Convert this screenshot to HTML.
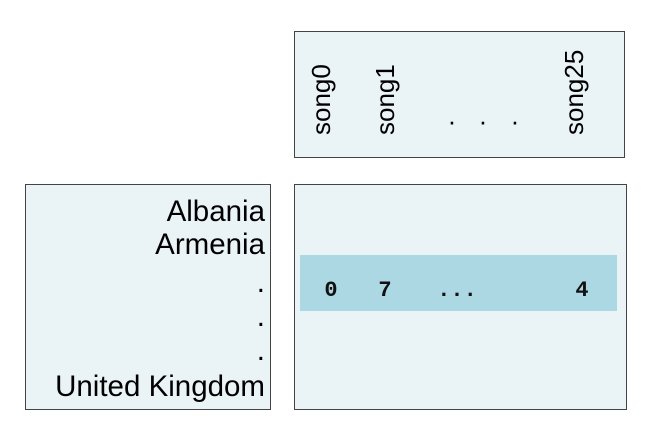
<!DOCTYPE html>
<html><head><meta charset="utf-8"><style>
html,body{margin:0;padding:0;background:#fff;}
svg{display:block;}
</style></head><body>
<svg width="660" height="440" viewBox="0 0 660 440" xmlns="http://www.w3.org/2000/svg" font-family="'Liberation Sans', sans-serif">
  <rect x="294.5" y="31.5" width="330" height="126" fill="#eaf3f6" stroke="#444" stroke-width="1"/>
  <rect x="25.5" y="184.5" width="245" height="225" fill="#eaf3f6" stroke="#444" stroke-width="1"/>
  <rect x="294.5" y="184.5" width="332" height="225" fill="#eaf3f6" stroke="#444" stroke-width="1"/>
  <rect x="300" y="255" width="317" height="56" fill="#acd8e4"/>
  <g id="cols"></g>
  <g id="rows"></g>
  <g id="vals"></g>
</svg>
<script>
const columns = ["song0","song1","·","·","·","song25"];
const columnX = [321,385,452,483,515,574];
const rows = ["Albania","Armenia",".",".",".","United Kingdom"];
const rowValues = ["0","7","...","4"];
const valueX = [331,385,457,582];
const NS="http://www.w3.org/2000/svg";
const cols=document.getElementById('cols');
columns.forEach((c,i)=>{
  const t=document.createElementNS(NS,'text');
  const x=columnX[i], y=135;
  if(c==="·"){
    t.setAttribute('x',x);t.setAttribute('y',130);
    t.setAttribute('text-anchor','middle');t.setAttribute('font-size','26');
  } else {
    t.setAttribute('transform','translate('+(x+9)+','+y+') rotate(-90)');
    t.setAttribute('font-size','26');
  }
  t.textContent=c;
  
  
  cols.appendChild(t);
});
const rg=document.getElementById('rows');
const rowY=[221,254,292,326,360,396];
rows.forEach((r,i)=>{
  const t=document.createElementNS(NS,'text');
  t.setAttribute('x',265);t.setAttribute('y',rowY[i]);
  t.setAttribute('text-anchor','end');t.setAttribute('font-size','29.5');
  t.textContent=r;
  
  
  rg.appendChild(t);
});
const vg=document.getElementById('vals');
rowValues.forEach((v,i)=>{
  const t=document.createElementNS(NS,'text');
  t.setAttribute('x',valueX[i]);t.setAttribute('y',296);
  t.setAttribute('text-anchor','middle');t.setAttribute('font-size','22');
  t.setAttribute('font-family',"'Liberation Mono', monospace");
  t.setAttribute('font-weight','600');
  t.setAttribute('fill','#111');
  t.textContent=v;
  
  
  vg.appendChild(t);
});
</script>
</body></html>
